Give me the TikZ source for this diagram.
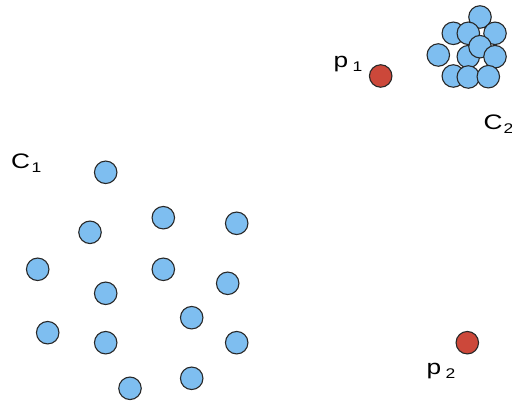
\documentclass[tikz,border=0pt]{standalone}
\usepackage{fontspec}
\setsansfont{Liberation Sans}
\newfontfamily\widesans[FakeStretch=1.25]{Liberation Sans}

\definecolor{dotblue}{RGB}{126,190,240}
\definecolor{dotred}{RGB}{204,72,58}
\definecolor{dotline}{RGB}{40,40,40}

\begin{document}
\begin{tikzpicture}[x=1pt,y=-1pt,
  bluedot/.style={circle,draw=dotline,line width=1.1pt,fill=dotblue,
    minimum size=22.5pt,inner sep=0pt},
  reddot/.style={bluedot,fill=dotred},
  lbl/.style={anchor=base west,inner sep=0pt,
    font=\widesans\fontsize{21}{24}\selectfont},
  sub/.style={anchor=base west,inner sep=0pt,yshift=-3.5pt,
    font=\widesans\fontsize{14}{16}\selectfont}]

% Canvas: 512 x 403, y grows downwards like the reference pixels
\useasboundingbox (0,0) rectangle (512,403);

% ── Cluster C1 (sparse) ──────────────────────────────────────────
\foreach \x/\y [count=\i] in {105.7/172.3, 163.3/217.7, 236.7/223.3,
    90/232.3, 37.7/269.3, 163.3/269.3, 227.7/283.3, 105.7/293.3,
    191.7/317.7, 47.7/332.7, 105.7/342.7, 236.7/342.7, 191.7/378.3,
    130/388.3}
  \node[bluedot] (a\i) at (\x,\y) {};

% ── Cluster C2 (dense) ───────────────────────────────────────────
\foreach \x/\y [count=\i] in {480/17, 453.3/33.3, 495/33.3,
    468.3/33.3, 438.3/55, 468.3/56.7, 480/46.7, 495/56.7,
    453.3/76, 468.3/77, 488.3/76.7}
  \node[bluedot] (b\i) at (\x,\y) {};

% ── Query points ─────────────────────────────────────────────────
\node[reddot] (p1) at (380.7,76) {};
\node[reddot] (p2) at (467.3,342.7) {};

% ── Labels ───────────────────────────────────────────────────────
\node[lbl] (c1lbl) at (11,169) {C};
\node[sub,xshift=1pt] (c1sub) at (c1lbl.base east) {1};
\node[lbl] (c2lbl) at (483.5,130) {C};
\node[sub,xshift=0.5pt] (c2sub) at (c2lbl.base east) {2};

\node[lbl] (p1lbl) at (333.5,68) {p};
\node[sub,xshift=4pt] (p1sub) at (p1lbl.base east) {1};
\node[lbl] (p2lbl) at (426.5,375) {p};
\node[sub,xshift=4pt] (p2sub) at (p2lbl.base east) {2};

\end{tikzpicture}
\end{document}
